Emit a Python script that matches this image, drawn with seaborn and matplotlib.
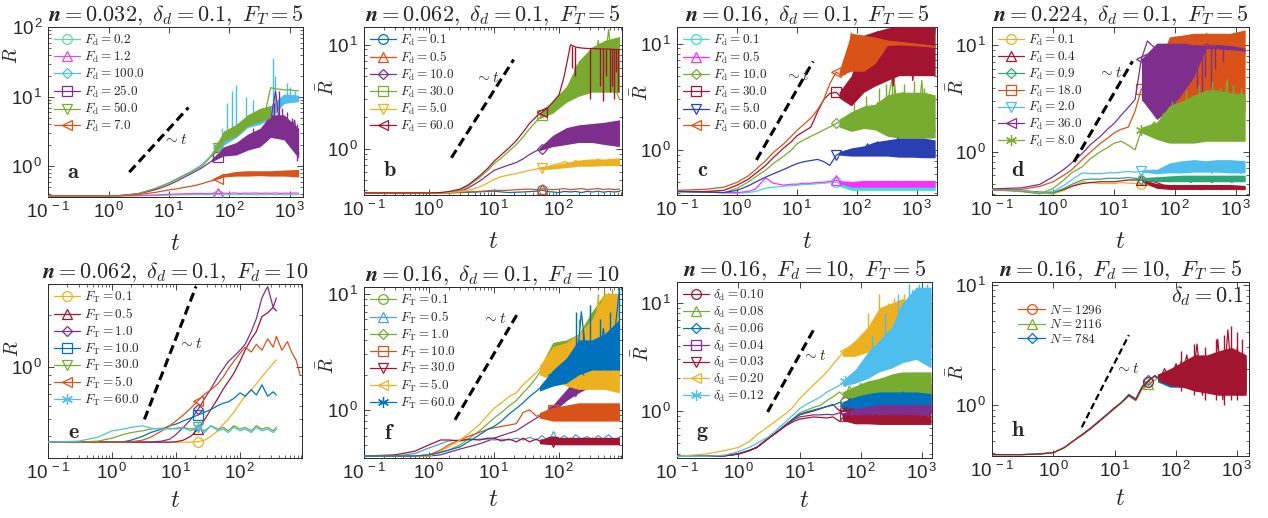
import math
import matplotlib
matplotlib.use("Agg")
import matplotlib.pyplot as plt
import seaborn as sns
from matplotlib.lines import Line2D
from matplotlib.ticker import NullFormatter, LogLocator, FuncFormatter
from matplotlib.font_manager import FontProperties
from matplotlib.mathtext import MathTextParser

# ---------------- time grids ----------------
t_top = [0.1, 0.3, 0.6, 1, 1.5, 2, 3, 4, 6, 8, 10, 13, 17, 22, 28, 35, 45, 55, 65, 80,
         100, 120, 150, 180, 220, 270, 330, 400, 480, 580, 700, 850, 1000, 1200, 1400]
t_c = [0.1, 0.3, 0.6, 1, 1.5, 2, 3, 4, 6, 8, 10, 13, 17, 22, 28, 35, 45, 55, 65, 80,
       100, 120, 150, 180, 220, 270, 330, 400, 480, 580, 700, 850, 1000, 1200, 1400, 1700, 2000]
t_mid = [0.1, 0.3, 0.6, 1, 1.5, 2, 3, 4, 6, 8, 10, 13, 17, 22, 28, 35, 45, 55, 65, 80,
         100, 120, 150, 180, 220, 270, 330, 400, 480, 580, 700, 850]
t_e = [0.1, 0.3, 0.6, 1, 1.5, 2, 3, 4, 6, 8, 10, 13, 17, 22, 28, 35, 45, 55, 65, 80,
       100, 120, 150, 180, 220, 270, 330, 370, 450, 550, 650, 750, 870]

# grids for the fluctuation envelopes (late times)
bt_top = [50, 80, 130, 200, 320, 480, 800, 1400]
bt_c = [50, 80, 130, 200, 320, 500, 800, 1300, 2000]
bt_d = [28, 50, 80, 130, 200, 320, 480, 800, 1400]
bt_mid = [50, 80, 130, 200, 320, 500, 850]

# ---------------- panel a ----------------
a_fd = ["0.2", "1.2", "100.0", "25.0", "50.0", "7.0"]
a_fd02 = [0.375, 0.375, 0.375, 0.375, 0.375, 0.375, 0.376, 0.377, 0.378, 0.380,
          0.382, 0.385, 0.387, 0.388, 0.390, 0.390, 0.388, 0.390, 0.390, 0.389,
          0.390, 0.388, 0.390, 0.391, 0.389, 0.390, 0.388, 0.390, 0.391, 0.389,
          0.390, 0.388, 0.390, 0.389, 0.390]
a_fd12 = [0.375, 0.375, 0.375, 0.375, 0.375, 0.376, 0.378, 0.380, 0.385, 0.390,
          0.394, 0.398, 0.400, 0.402, 0.404, 0.405, 0.400, 0.410, 0.405, 0.410,
          0.406, 0.412, 0.405, 0.410, 0.407, 0.412, 0.405, 0.410, 0.406, 0.412,
          0.405, 0.410, 0.407, 0.411, 0.408]
a_fd100 = [0.375, 0.375, 0.375, 0.375, 0.377, 0.386, 0.40, 0.43, 0.48, 0.53,
           0.58, 0.65, 0.73, 0.82, 0.93, 1.05, 1.30, 1.60, 1.90, 2.40,
           3.00, 3.30, 3.60, 4.00, 4.40, 4.60, 5.00, 5.20, 5.80, 6.50,
           8.00, 10.0, 9.50, 10.5, 9.50]
a_fd25 = [0.375, 0.375, 0.375, 0.375, 0.377, 0.385, 0.40, 0.42, 0.46, 0.50,
          0.54, 0.60, 0.68, 0.76, 0.85, 0.95, 1.10, 1.25, 1.35, 1.60,
          1.75, 1.50, 2.10, 1.70, 2.60, 2.00, 3.00, 2.30, 4.50, 12.0,
          3.00, 4.80, 2.50, 4.60, 1.50]
a_fd50 = [0.375, 0.375, 0.375, 0.375, 0.377, 0.385, 0.40, 0.43, 0.48, 0.53,
          0.57, 0.64, 0.72, 0.80, 0.90, 1.00, 1.25, 1.55, 1.85, 2.60,
          3.00, 3.60, 3.30, 4.60, 4.20, 5.60, 4.80, 6.50, 13.5, 13.0,
          12.8, 12.5, 12.6, 12.2, 12.2]
a_fd7 = [0.375, 0.375, 0.375, 0.375, 0.376, 0.38, 0.39, 0.40, 0.42, 0.44,
         0.455, 0.47, 0.49, 0.51, 0.53, 0.56, 0.60, 0.63, 0.66, 0.70,
         0.74, 0.76, 0.78, 0.76, 0.80, 0.77, 0.81, 0.76, 0.80, 0.78,
         0.82, 0.75, 0.84, 0.74, 0.80]
a_fd100_band = ([1.35, 2.0, 2.6, 3.6, 4.0, 4.8, 8.0, 8.5], [1.5, 3.0, 4.0, 5.3, 6.2, 7.5, 11.0, 10.5])
a_fd25_band = ([1.15, 1.4, 1.45, 1.7, 1.9, 2.6, 2.4, 1.3], [1.25, 1.9, 2.2, 2.9, 3.5, 5.5, 5.5, 3.5])
a_fd50_band = ([1.35, 2.3, 2.7, 3.8, 4.4, 5.0], [1.5, 3.2, 4.0, 5.5, 6.8, 7.5])
a_fd7_band = ([0.61, 0.70, 0.72, 0.72, 0.73, 0.72, 0.72, 0.70], [0.64, 0.78, 0.84, 0.86, 0.86, 0.86, 0.88, 0.90])
a_fd100_spikes = ([75, 90, 110, 130, 190, 250, 520, 560, 900, 1000, 1200],
                  [1.9, 2.5, 3.0, 3.3, 4.3, 5.0, 6.0, 6.0, 9.0, 9.0, 9.0],
                  [3.5, 8.0, 12.0, 15.0, 10.0, 9.0, 36.0, 20.0, 16.0, 14.0, 12.0])
a_fd25_spikes = ([250, 400, 550, 650, 750, 900, 1100, 1300],
                 [2.0, 2.3, 3.0, 3.0, 3.0, 2.5, 2.0, 1.2],
                 [3.5, 4.0, 8.0, 12.0, 7.0, 6.0, 5.0, 4.0])

# ---------------- panel b ----------------
b_fd = ["0.1", "0.5", "10.0", "30.0", "5.0", "60.0"]
b_fd01 = [0.377, 0.377, 0.377, 0.377, 0.377, 0.378, 0.380, 0.382, 0.386, 0.390,
          0.392, 0.385, 0.380, 0.383, 0.385, 0.388, 0.392, 0.400, 0.390, 0.385,
          0.380, 0.390, 0.385, 0.390, 0.380, 0.390, 0.385, 0.392, 0.383, 0.390,
          0.385, 0.390]
b_fd05 = [0.377, 0.377, 0.377, 0.377, 0.377, 0.378, 0.382, 0.386, 0.390, 0.395,
          0.400, 0.398, 0.400, 0.405, 0.408, 0.410, 0.405, 0.412, 0.410, 0.405,
          0.410, 0.415, 0.405, 0.410, 0.415, 0.405, 0.410, 0.416, 0.406, 0.412,
          0.405, 0.410]
b_fd10 = [0.377, 0.377, 0.377, 0.377, 0.378, 0.382, 0.39, 0.42, 0.49, 0.56,
          0.62, 0.66, 0.70, 0.74, 0.80, 0.88, 0.96, 1.00, 1.08, 1.20,
          1.35, 1.25, 1.50, 1.30, 1.55, 1.35, 1.60, 1.30, 1.70, 1.35,
          1.80, 1.40]
b_fd30 = [0.377, 0.377, 0.377, 0.377, 0.379, 0.385, 0.40, 0.44, 0.53, 0.62,
          0.72, 0.82, 0.95, 1.10, 1.30, 1.55, 1.85, 2.10, 2.30, 2.60,
          2.70, 3.50, 3.00, 6.50, 3.50, 8.00, 4.00, 11.0, 5.00, 14.0,
          4.00, 3.00]
b_fd5 = [0.377, 0.377, 0.377, 0.377, 0.378, 0.380, 0.388, 0.40, 0.43, 0.47,
         0.51, 0.54, 0.56, 0.58, 0.60, 0.62, 0.64, 0.66, 0.67, 0.70,
         0.72, 0.75, 0.72, 0.77, 0.73, 0.78, 0.74, 0.80, 0.72, 0.79,
         0.74, 0.78]
b_fd60 = [0.377, 0.377, 0.377, 0.377, 0.380, 0.388, 0.41, 0.45, 0.55, 0.65,
          0.76, 0.88, 1.02, 1.20, 1.45, 1.75, 2.05, 2.25, 2.45, 2.80,
          3.30, 5.00, 10.0, 9.50, 9.30, 9.20, 9.20, 9.10, 9.10, 9.10,
          9.00, 9.00]
b_fd10_band = ([0.96, 1.05, 1.1, 1.15, 1.15, 1.1, 1.05], [1.03, 1.35, 1.6, 1.7, 1.75, 1.8, 1.9])
b_fd30_band = ([1.95, 2.2, 2.8, 3.2, 3.5, 3.5, 3.5], [2.15, 2.9, 4.0, 7.0, 9.5, 11.0, 12.0])
b_fd5_band = ([0.63, 0.64, 0.66, 0.68, 0.68, 0.69, 0.69], [0.66, 0.70, 0.74, 0.78, 0.80, 0.80, 0.82])
b_fd60_spikes = ([160, 175, 300, 420, 470, 520, 600, 650, 700, 760, 820],
                 [6.0, 5.0, 3.0, 4.0, 2.9, 5.0, 3.5, 4.0, 3.0, 5.5, 3.5],
                 [9.8, 9.6, 9.2, 9.2, 9.1, 9.1, 9.1, 9.1, 9.0, 9.0, 9.0])

# ---------------- panel c ----------------
c_fd = ["0.1", "0.5", "10.0", "30.0", "5.0", "60.0"]
c_fd01 = [0.41, 0.405, 0.40, 0.395, 0.40, 0.41, 0.44, 0.45, 0.46, 0.465,
          0.47, 0.475, 0.48, 0.485, 0.49, 0.495, 0.50, 0.48, 0.45, 0.44,
          0.455, 0.43, 0.45, 0.44, 0.46, 0.43, 0.45, 0.44, 0.46, 0.43,
          0.45, 0.44, 0.455, 0.43, 0.45, 0.44, 0.44]
c_fd05 = [0.41, 0.405, 0.40, 0.40, 0.41, 0.43, 0.55, 0.49, 0.47, 0.48,
          0.48, 0.49, 0.49, 0.50, 0.50, 0.51, 0.52, 0.50, 0.49, 0.47,
          0.50, 0.46, 0.51, 0.47, 0.50, 0.46, 0.51, 0.47, 0.50, 0.46,
          0.51, 0.47, 0.50, 0.46, 0.50, 0.47, 0.48]
c_fd10 = [0.41, 0.405, 0.40, 0.44, 0.50, 0.56, 0.65, 0.75, 0.88, 1.00,
          1.15, 1.25, 1.35, 1.45, 1.55, 1.65, 1.78, 1.85, 1.70, 2.10,
          2.00, 1.60, 2.60, 1.70, 2.80, 1.90, 3.00, 5.30, 2.20, 3.50,
          1.60, 2.80, 1.50, 4.50, 1.40, 3.00, 1.50]
c_fd30 = [0.41, 0.41, 0.42, 0.47, 0.53, 0.60, 0.72, 0.85, 1.05, 1.20,
          1.37, 1.50, 1.65, 2.30, 3.00, 3.40, 3.50, 3.10, 2.90, 2.70,
          6.00, 3.80, 12.0, 4.50, 13.0, 5.00, 12.0, 4.00, 13.5, 5.50,
          12.0, 4.50, 14.0, 6.00, 12.0, 5.00, 14.0]
c_fd5 = [0.41, 0.405, 0.40, 0.42, 0.46, 0.50, 0.56, 0.60, 0.66, 0.71,
         0.75, 0.78, 0.80, 0.82, 0.78, 0.72, 0.90, 0.95, 0.98, 1.00,
         1.02, 0.90, 1.15, 0.92, 1.20, 0.95, 1.10, 0.90, 1.30, 0.92,
         1.15, 0.88, 1.20, 0.90, 1.10, 0.85, 0.95]
c_fd60 = [0.42, 0.43, 0.45, 0.50, 0.57, 0.65, 0.80, 0.95, 1.15, 1.35,
          1.54, 1.75, 2.00, 2.40, 3.00, 4.20, 5.40, 5.00, 5.20, 12.5,
          6.00, 11.5, 7.00, 11.0, 10.6, 10.5, 10.4, 10.3, 10.2, 10.1,
          10.0, 9.90, 9.80, 9.70, 9.60, 9.40, 9.30]
c_fd01_band = ([0.46, 0.42, 0.42, 0.42, 0.42, 0.42, 0.42, 0.42, 0.42], [0.50, 0.47, 0.47, 0.47, 0.47, 0.47, 0.47, 0.47, 0.47])
c_fd05_band = ([0.49, 0.45, 0.45, 0.45, 0.45, 0.45, 0.45, 0.45, 0.45], [0.52, 0.51, 0.52, 0.52, 0.52, 0.52, 0.52, 0.52, 0.52])
c_fd10_band = ([1.65, 1.5, 1.6, 1.55, 1.35, 1.3, 1.3, 1.3, 1.3], [1.95, 2.3, 2.6, 2.7, 3.3, 3.5, 3.5, 3.5, 3.3])
c_fd30_band = ([3.1, 2.6, 3.5, 4.0, 4.5, 5.0, 5.0, 5.0, 5.0], [3.5, 5.0, 12.0, 13.0, 14.0, 14.5, 14.5, 14.5, 14.5])
c_fd5_band = ([0.90, 0.88, 0.88, 0.88, 0.88, 0.86, 0.86, 0.85, 0.85], [0.97, 1.05, 1.10, 1.20, 1.25, 1.30, 1.30, 1.30, 1.25])
c_fd60_band = ([5.0, 5.5, 5.5, 6.5, 9.6, 9.7, 9.6, 9.4, 9.2], [5.5, 12.5, 12.0, 11.5, 10.8, 10.5, 10.2, 9.9, 9.6])
c_fd10_spikes = ([90, 140, 230, 300, 380, 420, 600, 900, 1300],
                 [1.8, 2.0, 2.2, 2.3, 2.5, 2.5, 2.3, 2.2, 2.0],
                 [2.8, 3.2, 3.8, 4.2, 5.3, 4.8, 4.2, 4.5, 3.8])

# ---------------- panel d ----------------
d_fd = ["0.1", "0.4", "0.9", "18.0", "2.0", "36.0", "8.0"]
d_fd01 = [0.437, 0.425, 0.405, 0.40, 0.43, 0.47, 0.52, 0.51, 0.50, 0.50,
          0.50, 0.51, 0.505, 0.50, 0.49, 0.48, 0.47, 0.46, 0.455, 0.45,
          0.46, 0.44, 0.455, 0.44, 0.45, 0.435, 0.45, 0.44, 0.455, 0.435,
          0.45, 0.44, 0.45, 0.435, 0.44]
d_fd04 = [0.437, 0.43, 0.415, 0.41, 0.44, 0.47, 0.50, 0.51, 0.52, 0.52,
          0.52, 0.53, 0.54, 0.54, 0.54, 0.53, 0.52, 0.50, 0.48, 0.47,
          0.48, 0.45, 0.47, 0.45, 0.47, 0.44, 0.47, 0.45, 0.46, 0.44,
          0.47, 0.45, 0.46, 0.44, 0.45]
d_fd09 = [0.437, 0.43, 0.41, 0.41, 0.45, 0.49, 0.54, 0.55, 0.55, 0.56,
          0.56, 0.56, 0.57, 0.56, 0.55, 0.54, 0.55, 0.53, 0.56, 0.52,
          0.57, 0.52, 0.56, 0.51, 0.57, 0.52, 0.56, 0.51, 0.57, 0.52,
          0.56, 0.51, 0.57, 0.52, 0.55]
d_fd18 = [0.437, 0.44, 0.47, 0.52, 0.60, 0.67, 0.84, 0.98, 1.20, 1.35,
          1.50, 1.62, 1.70, 2.40, 3.90, 4.20, 4.40, 3.50, 5.50, 3.50,
          12.0, 4.00, 11.0, 3.50, 12.0, 5.00, 13.0, 4.00, 11.0, 5.00,
          12.0, 4.50, 13.0, 6.00, 9.00]
d_fd2 = [0.437, 0.43, 0.41, 0.42, 0.48, 0.54, 0.63, 0.62, 0.62, 0.63,
         0.63, 0.64, 0.65, 0.64, 0.65, 0.66, 0.67, 0.63, 0.68, 0.64,
         0.72, 0.63, 0.74, 0.64, 0.80, 0.65, 0.74, 0.62, 0.76, 0.64,
         0.75, 0.63, 0.74, 0.62, 0.70]
d_fd36 = [0.445, 0.455, 0.49, 0.58, 0.68, 0.78, 0.96, 1.15, 1.40, 1.65,
          1.84, 2.20, 2.60, 3.10, 7.50, 11.0, 9.60, 4.00, 9.80, 5.00,
          9.70, 9.80, 10.2, 9.60, 10.0, 9.50, 10.3, 9.60, 9.80, 9.50,
          9.60, 9.30, 9.40, 9.10, 9.00]
d_fd8 = [0.437, 0.42, 0.40, 0.45, 0.54, 0.63, 0.72, 0.85, 1.00, 1.10,
         1.20, 1.25, 1.15, 1.04, 1.60, 1.50, 1.90, 1.70, 2.30, 1.80,
         2.40, 1.70, 2.80, 1.60, 3.00, 1.90, 2.60, 1.50, 3.50, 1.70,
         4.50, 1.40, 2.60, 1.30, 2.50]
d_fd04_band = ([0.52, 0.45, 0.44, 0.44, 0.44, 0.44, 0.44, 0.44, 0.44], [0.55, 0.50, 0.49, 0.49, 0.49, 0.49, 0.49, 0.49, 0.48])
d_fd09_band = ([0.54, 0.52, 0.52, 0.52, 0.52, 0.52, 0.52, 0.52, 0.52], [0.57, 0.58, 0.59, 0.60, 0.60, 0.60, 0.60, 0.60, 0.60])
d_fd18_band = ([3.0, 3.0, 2.6, 2.5, 2.5, 2.7, 2.7, 2.7, 2.5], [4.0, 6.0, 12.0, 12.5, 13.0, 13.0, 13.0, 13.0, 14.0])
d_fd2_band = ([0.64, 0.62, 0.63, 0.63, 0.64, 0.64, 0.64, 0.63, 0.63], [0.67, 0.68, 0.78, 0.82, 0.84, 0.82, 0.84, 0.84, 0.82])
d_fd36_band = ([3.1, 2.0, 2.5, 3.5, 5.0, 9.3, 9.3, 9.1, 8.8], [7.5, 10.5, 10.5, 10.5, 10.2, 10.0, 10.2, 10.0, 9.4])
d_fd8_band = ([1.5, 1.3, 1.2, 1.2, 1.2, 1.25, 1.25, 1.25, 1.25], [1.7, 1.9, 2.7, 3.0, 3.4, 3.8, 3.8, 3.6, 3.5])
d_fd36_spikes = ([230, 270, 310, 380, 450, 600], [4.0, 3.0, 5.0, 4.0, 6.0, 7.0], [9.8, 9.8, 9.8, 9.8, 9.8, 9.6])
d_fd8_spikes = ([90, 150, 250, 400, 550, 700, 900, 1200],
                [1.5, 1.5, 1.5, 1.5, 1.5, 1.5, 1.5, 1.5],
                [3.0, 3.8, 4.2, 4.6, 4.0, 4.8, 4.2, 4.0])

# ---------------- panel e ----------------
e_ft = ["0.1", "0.5", "1.0", "10.0", "30.0", "5.0", "60.0"]
e_ft01 = [0.37, 0.37, 0.37, 0.37, 0.37, 0.37, 0.37, 0.37, 0.37, 0.37,
          0.37, 0.37, 0.37, 0.372, 0.38, 0.40, 0.43, 0.47, 0.50, 0.55,
          0.62, 0.68, 0.74, 0.80, 0.88, 0.96, 1.05, 1.10]
e_ft05 = [0.37, 0.37, 0.37, 0.37, 0.37, 0.37, 0.37, 0.37, 0.37, 0.37,
          0.372, 0.38, 0.40, 0.44, 0.50, 0.57, 0.66, 0.75, 0.82, 0.92,
          1.08, 1.25, 1.45, 1.60, 1.95, 2.05, 2.20, 2.10]
e_ft1 = [0.37, 0.37, 0.37, 0.37, 0.37, 0.37, 0.37, 0.37, 0.375, 0.385,
         0.41, 0.45, 0.50, 0.57, 0.66, 0.75, 0.88, 0.98, 1.07, 1.15,
         1.25, 1.35, 1.60, 1.90, 2.50, 2.90, 2.20, 2.50]
e_ft10 = [0.37, 0.37, 0.37, 0.37, 0.372, 0.38, 0.40, 0.42, 0.44, 0.46,
          0.47, 0.49, 0.51, 0.53, 0.55, 0.57, 0.60, 0.62, 0.63, 0.66,
          0.71, 0.68, 0.74, 0.69, 0.79, 0.68, 0.72, 0.69]
e_ft30 = [0.37, 0.37, 0.375, 0.39, 0.41, 0.42, 0.43, 0.44, 0.445, 0.44,
          0.445, 0.45, 0.44, 0.45, 0.43, 0.46, 0.44, 0.45, 0.43, 0.46,
          0.44, 0.45, 0.43, 0.46, 0.44, 0.45, 0.43, 0.45]
e_ft5 = [0.37, 0.37, 0.37, 0.37, 0.37, 0.372, 0.38, 0.395, 0.43, 0.46,
         0.49, 0.53, 0.58, 0.64, 0.70, 0.74, 0.80, 0.88, 0.97, 1.08,
         1.20, 1.30, 1.22, 1.35, 1.25, 1.45, 1.30, 1.50, 1.25, 1.40,
         1.20, 1.10, 0.90]
e_ft60 = [0.37, 0.375, 0.395, 0.43, 0.44, 0.45, 0.46, 0.445, 0.44, 0.445,
          0.44, 0.445, 0.43, 0.45, 0.42, 0.46, 0.43, 0.44, 0.42, 0.45,
          0.43, 0.44, 0.42, 0.45, 0.43, 0.44, 0.42, 0.44]

# ---------------- panel f ----------------
f_ft = ["0.1", "0.5", "1.0", "10.0", "30.0", "5.0", "60.0"]
f_ft01 = [0.40, 0.40, 0.40, 0.40, 0.41, 0.43, 0.46, 0.48, 0.51, 0.54,
          0.57, 0.60, 0.63, 0.66, 0.72, 0.78, 0.85, 0.90, 0.95, 1.00,
          1.20, 1.15, 1.45, 1.30, 1.60, 1.80, 3.80, 2.00, 2.80, 5.00,
          2.50, 3.00]
f_ft05 = [0.40, 0.40, 0.42, 0.47, 0.51, 0.54, 0.55, 0.55, 0.56, 0.56,
          0.55, 0.56, 0.55, 0.57, 0.55, 0.58, 0.55, 0.60, 0.55, 0.59,
          0.56, 0.60, 0.55, 0.61, 0.56, 0.59, 0.55, 0.60, 0.56, 0.61,
          0.55, 0.58]
f_ft1 = [0.40, 0.40, 0.40, 0.41, 0.43, 0.45, 0.50, 0.56, 0.66, 0.76,
         0.85, 0.95, 1.08, 1.20, 1.40, 1.60, 1.90, 2.30, 2.70, 3.10,
         2.40, 3.50, 2.60, 3.20, 2.50, 4.50, 2.80, 7.40, 3.00, 10.0,
         4.00, 8.00]
f_ft10 = [0.40, 0.40, 0.40, 0.41, 0.45, 0.50, 0.55, 0.59, 0.64, 0.68,
          0.70, 0.72, 0.74, 0.76, 0.95, 1.00, 0.88, 0.92, 0.86, 1.00,
          0.90, 1.05, 0.88, 1.00, 0.85, 1.10, 0.88, 1.05, 0.84, 1.10,
          0.86, 0.98]
f_ft30 = [0.40, 0.41, 0.44, 0.50, 0.55, 0.55, 0.54, 0.56, 0.55, 0.57,
          0.57, 0.54, 0.56, 0.53, 0.57, 0.53, 0.56, 0.52, 0.57, 0.53,
          0.56, 0.51, 0.57, 0.52, 0.56, 0.51, 0.57, 0.52, 0.56, 0.51,
          0.56, 0.52]
f_ft5 = [0.40, 0.40, 0.40, 0.40, 0.44, 0.48, 0.55, 0.62, 0.75, 0.90,
         1.03, 1.15, 1.30, 1.40, 1.65, 1.85, 2.10, 2.40, 2.50, 2.60,
         2.00, 2.80, 1.80, 2.50, 2.00, 3.50, 2.20, 9.50, 1.80, 6.00,
         2.20, 1.60]
f_ft60 = [0.40, 0.40, 0.40, 0.41, 0.43, 0.45, 0.48, 0.53, 0.61, 0.68,
          0.72, 0.80, 0.92, 1.03, 1.15, 1.30, 1.45, 1.60, 1.75, 1.90,
          2.10, 1.80, 2.80, 1.90, 7.00, 2.50, 3.60, 2.20, 5.00, 2.80,
          4.00, 11.0]
f_ft01_band = ([0.85, 0.95, 1.2, 1.4, 1.6, 1.8, 1.8], [0.90, 1.1, 1.5, 2.0, 4.0, 5.0, 4.0])
f_ft1_band = ([2.0, 2.3, 2.2, 2.2, 2.3, 2.5, 2.5], [2.3, 3.8, 4.0, 4.5, 7.0, 10.0, 10.0])
f_ft10_band = ([0.85, 0.80, 0.80, 0.80, 0.80, 0.80, 0.80], [0.95, 1.05, 1.10, 1.15, 1.15, 1.15, 1.15])
f_ft30_band = ([0.51, 0.50, 0.50, 0.50, 0.50, 0.50, 0.50], [0.56, 0.58, 0.58, 0.58, 0.58, 0.58, 0.58])
f_ft5_band = ([2.0, 1.8, 1.6, 1.5, 1.5, 1.5, 1.4], [2.4, 3.5, 3.8, 4.5, 6.0, 10.0, 10.0])
f_ft60_band = ([1.45, 1.6, 1.7, 2.0, 2.2, 2.2, 2.2], [1.6, 2.2, 2.8, 4.0, 4.0, 4.5, 6.0])
f_ft1_spikes = ([200, 300, 400, 500, 650, 800], [2.5, 2.5, 3.0, 3.0, 3.0, 3.0], [6.0, 8.0, 10.0, 11.0, 11.0, 10.0])
f_ft60_spikes = ([180, 230, 300, 420, 600, 850], [2.0, 2.0, 2.2, 2.2, 2.2, 2.2], [7.0, 5.0, 8.0, 6.0, 7.0, 11.4])

# ---------------- panel g ----------------
g_dd = ["0.10", "0.08", "0.06", "0.04", "0.03", "0.20", "0.12"]
g_dd10 = [0.38, 0.38, 0.385, 0.40, 0.43, 0.46, 0.55, 0.62, 0.75, 0.85,
          0.92, 0.96, 1.00, 1.05, 1.10, 1.15, 1.00, 1.20, 0.95, 1.30,
          1.00, 1.40, 0.95, 1.60, 1.00, 1.30, 0.95, 2.20, 1.00, 1.50,
          0.95, 1.60, 1.00, 1.40, 0.95]
g_dd08 = [0.38, 0.38, 0.385, 0.40, 0.43, 0.46, 0.55, 0.62, 0.75, 0.86,
          0.96, 1.02, 1.08, 1.13, 1.25, 1.35, 1.50, 1.35, 1.70, 1.40,
          1.80, 1.50, 1.70, 1.40, 2.00, 1.50, 1.80, 1.40, 2.10, 1.50,
          1.90, 1.50, 2.20, 1.60, 1.90]
g_dd06 = [0.38, 0.38, 0.385, 0.40, 0.43, 0.46, 0.55, 0.62, 0.75, 0.85,
          0.93, 0.98, 1.02, 1.06, 1.10, 1.13, 1.20, 1.10, 1.30, 1.15,
          1.35, 1.20, 1.40, 1.15, 1.45, 1.20, 1.35, 1.15, 1.50, 1.20,
          1.40, 1.15, 1.35, 1.20, 1.30]
g_dd04 = [0.38, 0.38, 0.385, 0.40, 0.43, 0.46, 0.55, 0.62, 0.74, 0.83,
          0.88, 0.90, 0.92, 0.92, 0.93, 0.92, 0.96, 0.90, 1.00, 0.92,
          1.05, 0.95, 1.08, 0.93, 1.10, 0.95, 1.05, 0.92, 1.10, 0.95,
          1.08, 0.93, 1.10, 0.95, 1.05]
g_dd03 = [0.38, 0.38, 0.385, 0.40, 0.43, 0.46, 0.55, 0.62, 0.73, 0.80,
          0.84, 0.86, 0.88, 0.87, 0.86, 0.88, 0.80, 0.92, 0.82, 0.90,
          0.78, 0.88, 0.80, 0.92, 0.76, 0.90, 0.80, 0.88, 0.78, 0.90,
          0.80, 0.88, 0.78, 0.86, 0.80]
g_dd20 = [0.38, 0.40, 0.43, 0.46, 0.52, 0.60, 0.71, 0.80, 0.95, 1.10,
          1.30, 1.50, 1.75, 2.00, 2.30, 2.70, 3.20, 3.60, 3.30, 4.00,
          4.30, 3.60, 5.00, 6.20, 4.20, 8.00, 5.00, 8.90, 4.50, 7.20,
          9.00, 6.00, 7.70, 4.00, 9.00]
g_dd12 = [0.38, 0.38, 0.39, 0.42, 0.46, 0.50, 0.57, 0.65, 0.80, 0.93,
          1.05, 1.15, 1.25, 1.35, 1.50, 1.60, 1.73, 1.90, 2.10, 2.30,
          2.50, 2.20, 3.00, 2.50, 3.50, 2.60, 4.50, 3.00, 6.00, 3.50,
          13.0, 4.00, 6.20, 3.00, 12.0]
g_dd10_band = ([1.0, 0.95, 0.95, 0.95, 0.95, 0.95, 0.95, 0.95], [1.15, 1.5, 1.6, 1.8, 2.0, 2.0, 2.0, 1.8])
g_dd08_band = ([1.35, 1.3, 1.3, 1.3, 1.3, 1.3, 1.3, 1.3], [1.5, 1.7, 1.9, 2.0, 2.2, 2.3, 2.3, 2.3])
g_dd06_band = ([1.1, 1.05, 1.05, 1.05, 1.05, 1.05, 1.05, 1.05], [1.2, 1.35, 1.45, 1.5, 1.5, 1.5, 1.5, 1.45])
g_dd04_band = ([0.9, 0.88, 0.9, 0.9, 0.9, 0.9, 0.9, 0.9], [0.96, 1.05, 1.1, 1.15, 1.15, 1.15, 1.15, 1.15])
g_dd03_band = ([0.82, 0.76, 0.76, 0.75, 0.75, 0.75, 0.75, 0.75], [0.90, 0.92, 0.92, 0.92, 0.92, 0.92, 0.92, 0.90])
g_dd20_band = ([3.2, 3.2, 3.5, 3.8, 4.0, 4.0, 4.0, 4.0], [3.6, 4.5, 6.0, 9.0, 10.0, 11.0, 10.0, 10.0])
g_dd12_band = ([1.7, 1.8, 2.0, 2.3, 2.5, 2.8, 3.0, 2.5], [1.9, 2.4, 3.5, 4.5, 6.0, 10.0, 14.0, 14.0])
g_dd20_spikes = ([130, 200, 280, 350, 500], [3.5, 4.0, 4.0, 4.0, 4.0], [8.0, 12.0, 10.0, 11.0, 12.0])
g_dd12_spikes = ([150, 250, 400, 600, 900, 1200], [2.5, 3.0, 3.0, 3.5, 4.0, 4.0], [5.0, 8.0, 12.0, 15.0, 15.0, 15.0])

# ---------------- panel h ----------------
h_n = ["1296", "2116", "784"]
h_n1296 = [0.385, 0.385, 0.39, 0.40, 0.44, 0.49, 0.57, 0.63, 0.75, 0.85,
           0.94, 1.05, 1.20, 1.10, 1.40, 1.56, 1.75, 1.65, 2.00, 1.60,
           2.20, 1.55, 2.60, 1.40, 3.20, 1.20, 2.40, 1.30, 3.50, 1.10,
           4.20, 1.30, 3.00, 1.20, 2.00]
h_n2116 = [0.385, 0.385, 0.39, 0.40, 0.44, 0.49, 0.56, 0.63, 0.75, 0.85,
           0.93, 1.04, 1.18, 1.08, 1.35, 1.50, 1.60, 1.75, 1.60, 1.90,
           1.65, 2.30, 1.60, 2.00, 1.70, 2.40, 1.60, 2.10, 1.70, 2.30,
           1.60, 2.20, 1.70, 2.10, 1.70]
h_n784 = [0.385, 0.385, 0.39, 0.40, 0.44, 0.49, 0.57, 0.64, 0.76, 0.86,
          0.95, 1.05, 1.22, 1.12, 1.42, 1.60, 1.72, 1.60, 1.85, 1.50,
          1.90, 1.45, 2.10, 1.50, 2.60, 1.40, 2.20, 1.35, 2.50, 1.50,
          2.40, 1.30, 2.00, 1.35, 1.90]
h_n1296_band = ([1.6, 1.45, 1.4, 1.3, 1.25, 1.2, 1.2, 1.2], [1.8, 2.0, 2.3, 2.6, 2.6, 2.8, 3.0, 2.6])
h_n2116_band = ([1.6, 1.5, 1.5, 1.5, 1.5, 1.5, 1.5, 1.5], [1.75, 1.9, 2.2, 2.3, 2.3, 2.3, 2.3, 2.2])
h_n784_band = ([1.55, 1.4, 1.4, 1.35, 1.3, 1.3, 1.3, 1.3], [1.75, 1.9, 2.1, 2.5, 2.5, 2.5, 2.4, 2.4])
h_n1296_spikes = ([120, 200, 300, 450, 600, 800, 1000, 1200],
                  [1.3, 1.2, 1.1, 1.1, 1.0, 1.1, 1.1, 1.2],
                  [2.8, 3.2, 3.0, 3.5, 3.8, 4.5, 4.0, 3.5])

# ~t guide segments (t, R) and label spot
guide_a = ([2.2, 21], [0.82, 7.0], (12.6, 2.35))
guide_b = ([2.2, 20], [0.82, 7.2], (7.8, 4.8))
guide_c = ([2.1, 18.5], [0.81, 6.8], (10, 5.0))
guide_d = ([2.2, 20], [0.80, 7.1], (8.6, 5.5))
guide_e = ([3.2, 20.5], [0.50, 2.9], (16.6, 1.35))
guide_f = ([2.5, 24], [0.82, 7.0], (10, 6.1))
guide_g = ([3.0, 18], [0.98, 6.0], (17, 3.2))
guide_h = ([2.9, 17], [0.65, 3.8], (15.7, 2.0))

# ---------------- style ----------------
sns.set_style("ticks")
plt.rcParams["font.family"] = ["Liberation Sans", "DejaVu Sans"]
plt.rcParams.update({
    "mathtext.fontset": "cm",
    "xtick.direction": "in", "ytick.direction": "in",
    "xtick.top": True, "ytick.right": True,
    "xtick.major.size": 4, "ytick.major.size": 4,
    "xtick.minor.size": 2.2, "ytick.minor.size": 2.2,
    "xtick.major.width": 0.6, "ytick.major.width": 0.6,
    "xtick.minor.width": 0.5, "ytick.minor.width": 0.5,
    "axes.linewidth": 0.7, "axes.edgecolor": "#262626",
    "xtick.color": "#262626", "ytick.color": "#262626",
    "xtick.labelsize": 13.5, "ytick.labelsize": 13.5,
})

try:
    MathTextParser("agg").parse(r"$\mathbfit{n}$", dpi=100, prop=FontProperties(size=12))
    NB = r"\mathbfit{n}"
except Exception:
    NB = r"\mathbf{n}"

BLUE, ORANGE, YELLOW, PURPLE = "#0072BD", "#D95319", "#EDB120", "#7E2F8E"
GREEN, LBLUE, DRED = "#77AC30", "#4DBEEE", "#A2142F"
MINT, MAGENTA, TURQ, PINK = "#5FD9A5", "#E04BE0", "#33E6CC", "#FF2EFF"
NAVY, TEAL, MBLUE = "#2B3FB5", "#2BA878", "#4A9FE0"

ASTER = (6, 2, 0)
MARKERS = ["o", "^", "D", "s", "v", "<", ASTER]
MSIZE = {"o": 7, "^": 7, "D": 5.5, "s": 6.5, "v": 7, "<": 7, ASTER: 8}

decade_fmt = FuncFormatter(lambda v, pos: r"$\mathdefault{10^{\,%d}}$" % round(math.log10(v)))


def lab_fd(v):
    return r"$F_\mathrm{d} = %s$" % v


def lab_ft(v):
    return r"$F_\mathrm{T} = %s$" % v


panels = [
    dict(t=t_top, bt=bt_top, series=[a_fd02, a_fd12, a_fd100, a_fd25, a_fd50, a_fd7],
         bands=[None, None, a_fd100_band, a_fd25_band, a_fd50_band, a_fd7_band],
         spikes=[None, None, a_fd100_spikes, a_fd25_spikes, None, None],
         labels=[lab_fd(v) for v in a_fd], colors=[MINT, MAGENTA, LBLUE, PURPLE, GREEN, ORANGE],
         title=r"$%s = 0.032,\ \delta_d = 0.1,\ F_T = 5$" % NB, letter="a", guide=guide_a,
         xlim=(0.0995, 1650), ylim=(0.36, 101), mark=18,
         box=(48, 27, 303, 197), ylab=(-0.10, 0.83)),
    dict(t=t_mid, bt=bt_mid, series=[b_fd01, b_fd05, b_fd10, b_fd30, b_fd5, b_fd60],
         bands=[None, None, b_fd10_band, b_fd30_band, b_fd5_band, None],
         spikes=[None, None, None, None, None, b_fd60_spikes],
         labels=[lab_fd(v) for v in b_fd], colors=[BLUE, ORANGE, PURPLE, GREEN, YELLOW, DRED],
         title=r"$%s = 0.062,\ \delta_d = 0.1,\ F_T = 5$" % NB, letter="b", guide=guide_b,
         xlim=(0.0995, 930), ylim=(0.36, 14.8), mark=17,
         box=(364, 27, 622, 195), ylab=(-0.10, 0.64)),
    dict(t=t_c, bt=bt_c, series=[c_fd01, c_fd05, c_fd10, c_fd30, c_fd5, c_fd60],
         bands=[c_fd01_band, c_fd05_band, c_fd10_band, c_fd30_band, c_fd5_band, c_fd60_band],
         spikes=[None, None, c_fd10_spikes, None, None, None],
         labels=[lab_fd(v) for v in c_fd], colors=[TURQ, PINK, GREEN, DRED, NAVY, ORANGE],
         title=r"$%s = 0.16,\ \delta_d = 0.1,\ F_T = 5$" % NB, letter="c", guide=guide_c,
         xlim=(0.0995, 2150), ylim=(0.38, 14.3), mark=16,
         box=(677, 27, 937, 195), ylab=(-0.095, 0.61)),
    dict(t=t_top, bt=bt_d, series=[d_fd01, d_fd04, d_fd09, d_fd18, d_fd2, d_fd36, d_fd8],
         bands=[None, d_fd04_band, d_fd09_band, d_fd18_band, d_fd2_band, d_fd36_band, d_fd8_band],
         spikes=[None, None, None, None, None, d_fd36_spikes, d_fd8_spikes],
         labels=[lab_fd(v) for v in d_fd], colors=[YELLOW, DRED, TEAL, ORANGE, LBLUE, PURPLE, GREEN],
         title=r"$%s = 0.224,\ \delta_d = 0.1,\ F_T = 5$" % NB, letter="d", guide=guide_d,
         xlim=(0.0995, 1620), ylim=(0.39, 14.9), mark=14,
         box=(992, 27, 1249, 195), ylab=(-0.095, 0.64)),
    dict(t=t_e, bt=None, series=[e_ft01, e_ft05, e_ft1, e_ft10, e_ft30, e_ft5, e_ft60],
         labels=[lab_ft(v) for v in e_ft], colors=[YELLOW, DRED, PURPLE, BLUE, GREEN, ORANGE, LBLUE],
         title=r"$%s = 0.062,\ \delta_d = 0.1,\ F_d = 10$" % NB, letter="e", guide=guide_e,
         xlim=(0.0995, 930), ylim=(0.30, 3.0), mark=13,
         box=(48, 284, 302, 458), ylab=(-0.10, 0.63)),
    dict(t=t_mid, bt=bt_mid, series=[f_ft01, f_ft05, f_ft1, f_ft10, f_ft30, f_ft5, f_ft60],
         bands=[f_ft01_band, None, f_ft1_band, f_ft10_band, f_ft30_band, f_ft5_band, f_ft60_band],
         spikes=[None, None, f_ft1_spikes, None, None, None, f_ft60_spikes],
         labels=[lab_ft(v) for v in f_ft], colors=[PURPLE, MBLUE, GREEN, ORANGE, DRED, YELLOW, BLUE],
         legend_colors=[GREEN, MBLUE, GREEN, ORANGE, DRED, YELLOW, BLUE],
         title=r"$%s = 0.16,\ \delta_d = 0.1,\ F_d = 10$" % NB, letter="f", guide=guide_f,
         xlim=(0.0995, 930), ylim=(0.385, 11.4), mark=19,
         box=(364, 287, 622, 458), ylab=(-0.10, 0.54)),
    dict(t=t_top, bt=bt_top, series=[g_dd10, g_dd08, g_dd06, g_dd04, g_dd03, g_dd20, g_dd12],
         bands=[g_dd10_band, g_dd08_band, g_dd06_band, g_dd04_band, g_dd03_band, g_dd20_band, g_dd12_band],
         spikes=[None, None, None, None, None, g_dd20_spikes, g_dd12_spikes],
         labels=[r"$\delta_\mathrm{d} = %s$" % v for v in g_dd],
         colors=[DRED, GREEN, BLUE, PURPLE, DRED, YELLOW, LBLUE],
         title=r"$%s = 0.16,\ F_d = 10,\ F_T = 5$" % NB, letter="g", guide=guide_g,
         xlim=(0.0995, 1450), ylim=(0.367, 15.6), mark=17,
         box=(677, 282, 932, 458), ylab=(-0.095, 0.59)),
    dict(t=t_top, bt=bt_top, series=[h_n1296, h_n2116, h_n784],
         bands=[h_n1296_band, h_n2116_band, h_n784_band],
         spikes=[h_n1296_spikes, None, None],
         labels=[r"$N = %s$" % v for v in h_n], colors=[DRED, GREEN, BLUE],
         legend_colors=[ORANGE, GREEN, BLUE], reverse=True,
         title=r"$%s = 0.16,\ F_d = 10,\ F_T = 5$" % NB, letter="h", guide=guide_h,
         xlim=(0.0995, 1550), ylim=(0.375, 10.5), mark=15, leg_anchor=(0.08, 0.91),
         box=(992, 282, 1249, 456), ylab=(-0.095, 0.48), note=r"$\delta_d = 0.1$"),
]

W, H = 1268, 518
fig = plt.figure(figsize=(W / 100, H / 100), dpi=100)

for p in panels:
    x0, y0, x1, y1 = p["box"]
    ax = fig.add_axes([x0 / W, 1 - y1 / H, (x1 - x0) / W, (y1 - y0) / H])
    n = len(p["series"])
    bands = p.get("bands", [None] * n)
    spikes = p.get("spikes", [None] * n)
    for i in range(n):
        r, c, m = p["series"][i], p["colors"][i], MARKERS[i]
        z = 2 + (n - i if p.get("reverse") else i)
        if bands[i] is not None:
            lo, hi = bands[i]
            ax.fill_between(p["bt"][:len(lo)], lo, hi, color=c, lw=0, zorder=z - 0.5)
        if spikes[i] is not None:
            st, slo, shi = spikes[i]
            ax.vlines(st, slo, shi, color=c, lw=1.0, zorder=z - 0.4)
        sns.lineplot(x=p["t"][:len(r)], y=r, ax=ax, color=c, lw=0.9, sort=False,
                     estimator=None, legend=False, marker=m, markevery=[p["mark"]],
                     ms=MSIZE[m], mfc="none", mec=c, mew=0.9, zorder=z)

    gt, gr, (nx, ny) = p["guide"]
    ax.plot(gt, gr, color="k", lw=1.6 if p["letter"] == "h" else 2.2, ls=(0, (3, 1.6)), zorder=20)
    ax.text(nx, ny, r"$\sim t$", fontsize=11, ha="center", va="center", zorder=21)

    ax.set_xscale("log")
    ax.set_yscale("log")
    ax.set_xlim(*p["xlim"])
    ax.set_ylim(*p["ylim"])
    ax.xaxis.set_major_locator(LogLocator(base=10, numticks=12))
    ax.yaxis.set_major_locator(LogLocator(base=10, numticks=12))
    ax.xaxis.set_major_formatter(decade_fmt)
    ax.yaxis.set_major_formatter(decade_fmt)
    ax.xaxis.set_minor_formatter(NullFormatter())
    ax.yaxis.set_minor_formatter(NullFormatter())
    ax.tick_params(which="both", top=True, right=True, direction="in")

    ax.set_title(p["title"], fontsize=16, pad=4)
    ax.set_xlabel("$t$", fontsize=18)
    ax.set_ylabel(r"$\bar{R}$", fontsize=14)
    ax.xaxis.set_label_coords(0.5, -0.20 if y0 < 100 else -0.17)
    ax.yaxis.set_label_coords(*p["ylab"])

    ax.text(0.10, 0.145, r"$\mathbf{%s}$" % p["letter"], fontsize=16,
            ha="center", va="center", transform=ax.transAxes, zorder=21)
    if "note" in p:
        ax.text(0.98, 0.92, p["note"], fontsize=16, ha="right", va="center",
                transform=ax.transAxes)

    lcols = p.get("legend_colors", p["colors"])
    handles = [Line2D([], [], color=c, lw=0.9, marker=m, ms=MSIZE[m], mfc="none", mec=c, mew=0.9)
               for c, m in zip(lcols, MARKERS)]
    leg = ax.legend(handles, p["labels"], loc="upper left", bbox_to_anchor=p.get("leg_anchor", (0, 1)),
                    frameon=False, fontsize=9.5, handlelength=2.0, handletextpad=0.3,
                    labelspacing=0.12, borderaxespad=0.25, borderpad=0.2)
    leg.set_zorder(30)

fig.savefig("out.png", dpi=100)
